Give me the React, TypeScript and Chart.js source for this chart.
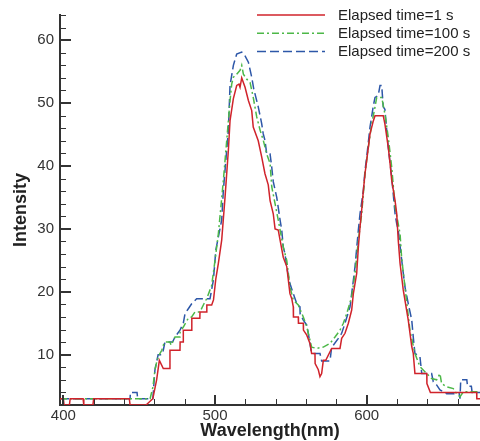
import React, { useEffect, useRef } from 'react';
import { Chart, registerables } from 'chart.js';

Chart.register(...registerables);

// Series labels
const seriesLabels = ['Elapsed time=1 s', 'Elapsed time=100 s', 'Elapsed time=200 s'];

// Axis settings (values)
const xMin = 397.8;
const xMax = 674.7;
const yMin = 2;
const yMax = 64;
const xMajorStep = 100;
const xMinorStep = 20;
const yMajorStep = 10;
const yMinorStep = 2;

// [wavelength (nm), intensity]
const red1s: [number, number][] = [
  [397.8, 3], [400, 3], [400.5, 2], [404, 2], [404.5, 3], [413, 3], [413.5, 2], [419.5, 2], [420, 3],
  [443.5, 3], [444, 2], [454.5, 2], [459, 3], [461.5, 6], [463.3, 9.1], [465.9, 7.8], [469.8, 7.8],
  [470.3, 10.7], [476.9, 10.7], [477, 12], [479, 12], [479.1, 13.9], [484.6, 13.9], [484.7, 15.8],
  [490, 15.8], [490.1, 16.8], [494.5, 16.8], [494.6, 17.9], [497.8, 17.9], [499, 18.7], [500.5, 22],
  [502.2, 24.5], [504.4, 28.2], [506.6, 35], [508.8, 42.5], [509.9, 47.2], [512.1, 50.7], [514.3, 52.8],
  [515.8, 53], [516.5, 52.5], [517.6, 54], [519.8, 52.5], [522, 50.4], [524.2, 48.8], [525.2, 46.2],
  [528.5, 44], [530.8, 41.4], [532.9, 38.8], [535.1, 37], [536.3, 34.5], [538.4, 32.4], [539.6, 30],
  [541.7, 29.8], [542.9, 28.2], [545, 25.5], [547.3, 24], [549.4, 19.7], [550.6, 18.9], [551.6, 17.6],
  [551.7, 16], [554.9, 16], [555, 15], [558.2, 15], [558.3, 13.9], [560.5, 13.1], [562.6, 11.8],
  [563.7, 10.2], [565.9, 10.2], [566, 8.6], [568.1, 7.6], [569.2, 6.5], [570.3, 7], [571.4, 9.1],
  [573, 9.1], [576.9, 11], [582.4, 11], [583.5, 12.6], [585.7, 13.4], [587.9, 15], [590.1, 17.1],
  [591.2, 19.7], [593.4, 22.9], [594.5, 27.1], [595.6, 30.3], [596.7, 33], [597.8, 36.1], [598.9, 38.8],
  [600, 40.9], [601.1, 43], [602.2, 45.1], [604.4, 47.2], [605.5, 48], [610.9, 48], [612, 46.7],
  [614.2, 43], [615.4, 40.4], [616.5, 37.7], [618.7, 34.5], [619.8, 32.4], [620.8, 28.2], [622, 24.5],
  [624.1, 20.3], [627.4, 15.5], [629.7, 11.3], [630.7, 10.2], [631.8, 7], [639.6, 7], [639.7, 5.4],
  [642, 4], [672.5, 4], [672.6, 3], [674.7, 3],
];

const green100s: [number, number][] = [
  [397.8, 3], [456, 3], [457.2, 3], [459.1, 4.9], [460.4, 7.6], [461.8, 9.1], [463.3, 10], [464.9, 10.7],
  [465.9, 11.5], [467, 12], [470.3, 12], [471, 11.5], [473.6, 12.8], [476.9, 12.8], [477, 13.6],
  [479.1, 14.4], [482.4, 15.8], [484.6, 16], [486.8, 16.8], [490.1, 16.8], [492.3, 17.9], [494.5, 18.9],
  [496.7, 20.3], [497.8, 21], [500, 25], [502.2, 29.2], [505.5, 37.7], [507.7, 44], [509.9, 50.4],
  [511, 53], [512.1, 54.1], [514.3, 54.6], [516.5, 55.2], [517.6, 56], [518.7, 54.6], [520.9, 53.8],
  [523.1, 53.3], [525.2, 50.9], [527.5, 47.8], [529.7, 45.7], [531.8, 44.1], [534.1, 41.9], [536.3, 40.4],
  [537.4, 36.7], [541.7, 31.4], [545, 27.1], [547.3, 25], [549.4, 20.8], [551.6, 18.7], [554.9, 17.9],
  [558.2, 16], [560.5, 14.4], [562.6, 12.3], [563.7, 11.2], [567, 11], [571.4, 11.2], [575.8, 11.8],
  [579.1, 12.8], [582.4, 13.9], [584.6, 15], [586.8, 16.5], [590.1, 19.2], [592.3, 22.9], [594.5, 28.2],
  [596.7, 32.4], [598.9, 38.8], [601.1, 43], [603.3, 46.7], [605.5, 49.4], [606.6, 50.9], [609.9, 50.9],
  [612, 48.3], [614.2, 44.6], [616.5, 39.8], [618.7, 33.5], [620.8, 30.8], [622, 29.2], [623, 25.5],
  [625.2, 20.8], [628.5, 13.9], [631.8, 10.2], [635.1, 8.1], [639.6, 7], [642.8, 6.2], [646.1, 6],
  [648.3, 7], [649.4, 5.4], [652.7, 4.9], [657.1, 4.6], [659.3, 3.8], [661.5, 3.3], [663.7, 4.1],
  [674.7, 4.1],
];

const blue200s: [number, number][] = [
  [397.8, 3], [444, 3], [444.2, 4], [448.6, 4], [449, 3], [459, 3], [460.4, 7.6], [462.5, 10], [464.9, 10],
  [465.9, 10.7], [467, 12], [472, 12], [473.6, 12.8], [476.9, 13.9], [479.1, 15], [480.2, 16.5],
  [482.4, 17.3], [484.6, 18.1], [487.9, 18.9], [496.7, 18.9], [498.9, 21.8], [500, 25], [500.5, 26.6],
  [504.4, 31.4], [505.5, 36.1], [507.7, 42.5], [508.8, 45.6], [509.9, 52.8], [512.1, 56], [514.3, 57.8],
  [517.6, 58.1], [518.7, 57.9], [519.8, 57.5], [522, 56.5], [524.2, 54.1], [525.5, 52.3], [528.5, 49.4],
  [530.8, 46.7], [531.8, 45.1], [532.9, 44.1], [534.1, 41.9], [536.3, 41.9], [537.4, 39.8], [538.4, 37.5],
  [540.7, 35], [542.9, 31.4], [544, 29.8], [545, 27.1], [546.1, 26.1], [547.3, 24], [548.3, 22.6],
  [549.4, 21.3], [551.6, 19.7], [553.9, 18.1], [556, 17.6], [556.1, 16.5], [558.2, 15.5], [560.5, 14.7],
  [561.5, 13.4], [562.6, 11.8], [563.7, 10.2], [569.2, 10.2], [570.3, 9], [575.8, 9], [576.9, 11.2],
  [578, 11.5], [581.3, 12.6], [583.5, 13.4], [585.7, 15], [589, 17.6], [591.2, 21.8], [592.3, 24],
  [594.5, 29.8], [595.6, 32.4], [597.8, 36.1], [598.9, 39.3], [600, 41.4], [602.2, 46.2], [604.4, 49.6],
  [605.5, 50.9], [607.6, 51.2], [608.8, 52.8], [609.9, 52.8], [610.9, 49.4], [612, 49], [613.2, 45.7],
  [614.2, 43], [616.5, 38.2], [618.7, 32.4], [619.8, 30.8], [620.8, 29.8], [623.1, 25], [625.2, 20.8],
  [627.4, 18.1], [629.7, 15.5], [630.7, 12.8], [631.8, 10.2], [635.1, 9.7], [636.3, 7], [642.8, 7],
  [643.9, 5.7], [646.1, 5.2], [648.3, 4.4], [652.7, 3.8], [661, 3.8], [661.5, 3], [662, 6], [666, 6],
  [666.5, 5], [669, 5], [669.5, 4], [674.7, 4],
];

const FONT = '"Liberation Sans", Arial, Helvetica, sans-serif';

const inwardTicks = {
  id: 'inwardTicks',
  afterDatasetsDraw(chart: any) {
    const { ctx, chartArea, scales } = chart;
    const xs = scales.x;
    const ys = scales.y;
    ctx.save();
    ctx.strokeStyle = '#333';
    for (let v = Math.ceil(xMin / xMinorStep) * xMinorStep; v <= xMax; v += xMinorStep) {
      const major = v % xMajorStep === 0;
      const px = xs.getPixelForValue(v);
      ctx.lineWidth = major ? 2 : 1;
      ctx.beginPath();
      ctx.moveTo(Math.round(px) + (major ? 0 : 0.5), chartArea.bottom);
      ctx.lineTo(Math.round(px) + (major ? 0 : 0.5), chartArea.bottom - (major ? 10 : 6));
      ctx.stroke();
    }
    for (let v = Math.ceil((yMin + 1) / yMinorStep) * yMinorStep; v <= yMax; v += yMinorStep) {
      const major = v % yMajorStep === 0;
      const py = ys.getPixelForValue(v);
      ctx.lineWidth = major ? 2 : 1;
      ctx.beginPath();
      ctx.moveTo(chartArea.left, Math.round(py) + (major ? 0 : 0.5));
      ctx.lineTo(chartArea.left + (major ? 11 : 6), Math.round(py) + (major ? 0 : 0.5));
      ctx.stroke();
    }
    ctx.restore();
  },
};

const lineLegend = {
  id: 'lineLegend',
  afterDraw(chart: any) {
    const ctx = chart.ctx;
    const right = chart.chartArea.right;
    chart.data.datasets.forEach((ds: any, i: number) => {
      const y = 15 + i * 18.3;
      ctx.save();
      ctx.strokeStyle = ds.borderColor;
      ctx.lineWidth = 1.5;
      ctx.setLineDash(ds.borderDash || []);
      ctx.beginPath();
      ctx.moveTo(right - 223, y);
      ctx.lineTo(right - 155, y);
      ctx.stroke();
      ctx.setLineDash([]);
      ctx.fillStyle = '#222';
      ctx.font = '15px ' + FONT;
      ctx.textBaseline = 'middle';
      ctx.textAlign = 'left';
      ctx.fillText(ds.label, right - 142, y + 0.5);
      ctx.restore();
    });
  },
};

const toPoints = (arr: [number, number][]) => arr.map(([x, y]) => ({ x, y }));

export default function App() {
  const ref = useRef<HTMLCanvasElement | null>(null);

  useEffect(() => {
    if (!ref.current) return;
    const chart = new Chart(ref.current, {
      type: 'line',
      data: {
        datasets: [
          {
            label: seriesLabels[0],
            data: toPoints(red1s),
            borderColor: '#D0232B',
            borderWidth: 1.5,
            pointRadius: 0,
            tension: 0,
            fill: false,
          },
          {
            label: seriesLabels[1],
            data: toPoints(green100s),
            borderColor: '#4DB848',
            borderWidth: 1.5,
            borderDash: [7, 3, 2, 3],
            pointRadius: 0,
            tension: 0,
            fill: false,
          },
          {
            label: seriesLabels[2],
            data: toPoints(blue200s),
            borderColor: '#2D57A8',
            borderWidth: 1.5,
            borderDash: [9, 4],
            pointRadius: 0,
            tension: 0,
            fill: false,
          },
        ],
      },
      options: {
        responsive: false,
        animation: false,
        devicePixelRatio: 1,
        layout: { padding: { top: 15, right: 0, left: 0, bottom: 0 } },
        plugins: {
          legend: { display: false },
          tooltip: { enabled: false },
        },
        scales: {
          x: {
            type: 'linear',
            min: xMin,
            max: xMax,
            grid: { display: false, drawTicks: false },
            border: { display: true, color: '#333', width: 2 },
            ticks: {
              stepSize: xMajorStep,
              includeBounds: false,
              color: '#333',
              padding: 2,
              maxRotation: 0,
              font: { family: FONT, size: 15 },
            },
            title: {
              display: true,
              text: 'Wavelength(nm)',
              color: '#222',
              font: { family: FONT, size: 18, weight: 'bold', lineHeight: 1.1 },
              padding: { top: 0, bottom: 0 },
            },
            afterFit: (s: any) => {
              s.height = 36;
            },
          },
          y: {
            type: 'linear',
            min: yMin,
            max: yMax,
            grid: { display: false, drawTicks: false },
            border: { display: true, color: '#333', width: 2 },
            ticks: {
              stepSize: yMajorStep,
              includeBounds: false,
              color: '#333',
              padding: 6,
              font: { family: FONT, size: 15 },
            },
            title: {
              display: true,
              text: 'Intensity',
              color: '#222',
              font: { family: FONT, size: 18, weight: 'bold', lineHeight: 1.2 },
              padding: { top: 10, bottom: 0 },
            },
            afterFit: (s: any) => {
              s.width = 60;
            },
          },
        },
      } as any,
      plugins: [inwardTicks, lineLegend],
    });
    return () => chart.destroy();
  }, []);

  return (
    <div style={{ position: 'absolute', left: 0, top: 0, width: 480, height: 441, background: '#fff' }}>
      <canvas ref={ref} width={480} height={441} style={{ display: 'block' }} />
    </div>
  );
}
